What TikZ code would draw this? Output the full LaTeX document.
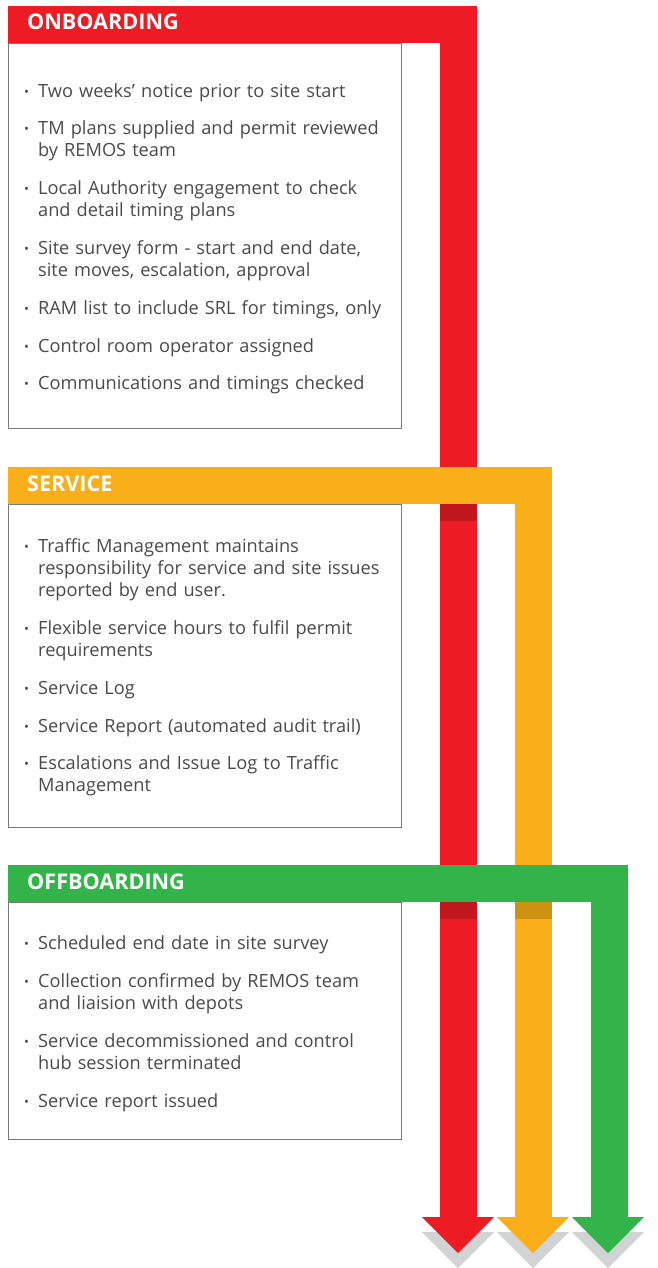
\documentclass[tikz,border=0pt]{standalone}
\usepackage{fontspec}
\setmainfont{Open Sans}
\usetikzlibrary{positioning}

\definecolor{obred}{HTML}{ED1C24}
\definecolor{obdark}{HTML}{C1181E}
\definecolor{svorange}{HTML}{F9AE1A}
\definecolor{svdark}{HTML}{CE9213}
\definecolor{offgreen}{HTML}{33B44A}
\definecolor{tipgray}{HTML}{D1D3D4}
\definecolor{bodytext}{HTML}{4A4A4A}
\definecolor{cardline}{HTML}{7A7A7A}

% bullet line with hanging indent
\newcommand{\pointitem}[1]{\par\hangindent=14pt\hangafter=1\noindent
  \makebox[14pt][l]{\raisebox{1pt}{\fontsize{13}{13}\selectfont\textbullet}}\strut#1\par\vspace{15.8pt}}

\begin{document}
\begin{tikzpicture}[x=1pt, y=-1pt,
    title/.style={anchor=west, inner sep=0pt, text=white,
                  font=\fontsize{21.6}{22}\selectfont\bfseries},
    card/.style={draw=cardline, line width=0.9pt, fill=white, anchor=north west,
                 minimum width=393, inner sep=0pt},
    list/.style={anchor=north west, inner sep=0pt, text width=380,
                 align=left, text=bodytext, font=\fontsize{18.2}{22}\selectfont},
    tip/.style={fill=#1}
  ]
    \useasboundingbox (0,0) rectangle (658,1268);

    % gray shadows under the arrow tips
    \fill[tipgray] (422,1232) -- (494,1232) -- (458,1268) -- cycle;
    \fill[tipgray] (497,1232) -- (569,1232) -- (533,1268) -- cycle;
    \fill[tipgray] (572,1232) -- (644,1232) -- (608,1268) -- cycle;

    % onboarding band
    \fill[obred] (8,6) rectangle (477,43);
    \fill[obred] (440,43) rectangle (477,1217);
    \fill[tip=obred] (422,1217) -- (494,1217) -- (458,1253) -- cycle;

    % service band
    \fill[svorange] (8,467) rectangle (552,504);
    \fill[svorange] (515,504) rectangle (552,1217);
    \fill[tip=svorange] (497,1217) -- (569,1217) -- (533,1253) -- cycle;
    \fill[obdark] (440,504) rectangle (477,521);

    % offboarding band
    \fill[offgreen] (8,865) rectangle (628,902);
    \fill[offgreen] (591,902) rectangle (628,1217);
    \fill[tip=offgreen] (572,1217) -- (644,1217) -- (608,1253) -- cycle;
    \fill[obdark] (440,902) rectangle (477,919);
    \fill[svdark] (515,902) rectangle (552,919);

    % titles
    \node[title] (onb) at (27,22) {ONBOARDING};
    \node[title] (svc) at (27,483.5) {SERVICE};
    \node[title] (off) at (27,881.5) {OFFBOARDING};

    % cards
    \node[card, minimum height=385] (onbcard) at (8,43) {};
    \node[card, minimum height=323] (svccard) at (8,504) {};
    \node[card, minimum height=237] (offcard) at (8,902) {};

    \node[list] (onblist) at (24,75) {%
      \pointitem{Two weeks’ notice prior to site start}
      \pointitem{TM plans supplied and permit reviewed\newline by REMOS team}
      \pointitem{Local Authority engagement to check\newline and detail timing plans}
      \pointitem{Site survey form - start and end date,\newline site moves, escalation, approval}
      \pointitem{RAM list to include SRL for timings, only}
      \pointitem{Control room operator assigned}
      \pointitem{Communications and timings checked}};

    \node[list] (svclist) at (24,530.5) {%
      \pointitem{Traffic Management maintains\newline responsibility for service and site issues\newline reported by end user.}
      \pointitem{Flexible service hours to fulfil permit\newline requirements}
      \pointitem{Service Log}
      \pointitem{Service Report (automated audit trail)}
      \pointitem{Escalations and Issue Log to Traffic\newline Management}};

    \node[list] (offlist) at (24,927.5) {%
      \pointitem{Scheduled end date in site survey}
      \pointitem{Collection confirmed by REMOS team\newline and liaision with depots}
      \pointitem{Service decommissioned and control\newline hub session terminated}
      \pointitem{Service report issued}};
  \end{tikzpicture}
\end{document}
